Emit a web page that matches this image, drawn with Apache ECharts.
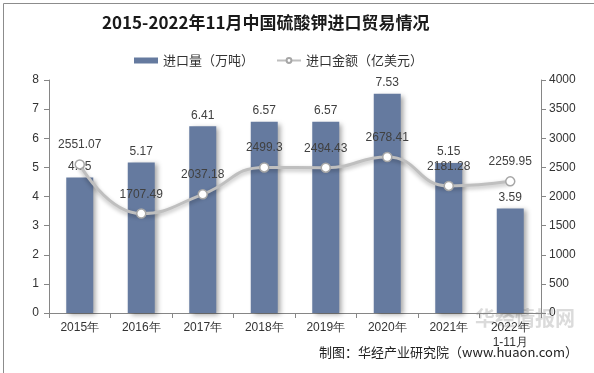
<!DOCTYPE html>
<html><head><meta charset="utf-8">
<script src="https://cdn.jsdelivr.net/npm/echarts@6/dist/echarts.min.js"></script>
<style>html,body{margin:0;padding:0;background:#fff}#c{width:594px;height:373px}</style>
</head><body><div id="c"></div>
<script>
const categories = ['2015年','2016年','2017年','2018年','2019年','2020年','2021年','2022年\n1-11月'];
const volume = [4.65, 5.17, 6.41, 6.57, 6.57, 7.53, 5.15, 3.59];
const amount = [2551.07, 1707.49, 2037.18, 2499.3, 2494.43, 2678.41, 2181.28, 2259.95];
const leftTicks = {min: 0, max: 8, interval: 1};
const rightTicks = {min: 0, max: 4000, interval: 500};

const chart = echarts.init(document.getElementById('c'));
const axisStyle = {lineStyle: {color: '#868686'}};
chart.setOption({
  animation: false,
  title: {
    text: '2015-2022年11月中国硫酸钾进口贸易情况',
    left: 97, top: 9,
    textStyle: {fontFamily: 'Noto Sans CJK SC', fontSize: 17, fontWeight: 'bold', color: '#1a1a1a'}
  },
  legend: {
    top: 49, left: 129, itemGap: 22, itemWidth: 24, itemHeight: 6,
    textStyle: {fontFamily: 'Noto Sans CJK SC', fontSize: 13, color: '#333'},
    data: [
      {name: '进口量（万吨）', icon: 'rect'},
      {name: '进口金额（亿美元）'}
    ]
  },
  grid: {left: 49, right: 53, top: 80, bottom: 60},
  xAxis: {
    type: 'category', data: categories,
    axisLine: axisStyle,
    axisTick: {show: true, lineStyle: {color: '#868686'}},
    axisLabel: {fontFamily: 'Arial, Liberation Sans', fontSize: 12, color: '#333', margin: 7, lineHeight: 15}
  },
  yAxis: [
    {type: 'value', min: leftTicks.min, max: leftTicks.max, interval: leftTicks.interval,
     axisLine: {show: true, lineStyle: {color: '#868686'}}, axisTick: {show: true, lineStyle: {color: '#868686'}},
     splitLine: {show: false},
     axisLabel: {fontFamily: 'Arial, Liberation Sans', fontSize: 12, color: '#333', margin: 10, formatter: v => String(v)}},
    {type: 'value', min: rightTicks.min, max: rightTicks.max, interval: rightTicks.interval,
     axisLine: {show: true, lineStyle: {color: '#868686'}}, axisTick: {show: true, lineStyle: {color: '#868686'}},
     splitLine: {show: false},
     axisLabel: {fontFamily: 'Arial, Liberation Sans', fontSize: 12, color: '#333', margin: 8, formatter: v => String(v)}}
  ],
  series: [
    {
      name: '进口量（万吨）', type: 'bar', data: volume, barWidth: 27,
      itemStyle: {color: '#657a9f', shadowColor: 'rgba(0,0,0,0.35)', shadowBlur: 5, shadowOffsetX: 3, shadowOffsetY: 2},
      label: {show: true, position: 'top', distance: 5, fontFamily: 'Arial, Liberation Sans', fontSize: 12, color: '#404040'}
    },
    {
      name: '进口金额（亿美元）', type: 'line', yAxisIndex: 1, data: amount, smooth: true,
      symbol: 'circle', symbolSize: 9,
      lineStyle: {color: '#bfbfbf', width: 3, shadowColor: 'rgba(0,0,0,0.3)', shadowBlur: 4, shadowOffsetY: 2},
      itemStyle: {color: '#ffffff', borderColor: '#a6a6a6', borderWidth: 1.5},
      label: {show: true, position: 'top', distance: 8, fontFamily: 'Arial, Liberation Sans', fontSize: 12, color: '#404040'},
      z: 5
    }
  ],
  graphic: [
    {type: 'rect', left: 1, top: 1, shape: {width: 591, height: 370}, style: {fill: 'none', stroke: '#8c8c8c', lineWidth: 1}, silent: true},
    {type: 'text', left: 475, top: 308, style: {text: '华经情报网', fill: 'rgba(190,190,190,0.55)', font: 'bold 20px "Noto Sans CJK SC"'}, silent: true},
    {type: 'text', right: 16, top: 346, style: {text: '制图：华经产业研究院（www.huaon.com）', fill: '#222', font: '13px "Noto Sans CJK SC"'}}
  ]
});
</script></body></html>
